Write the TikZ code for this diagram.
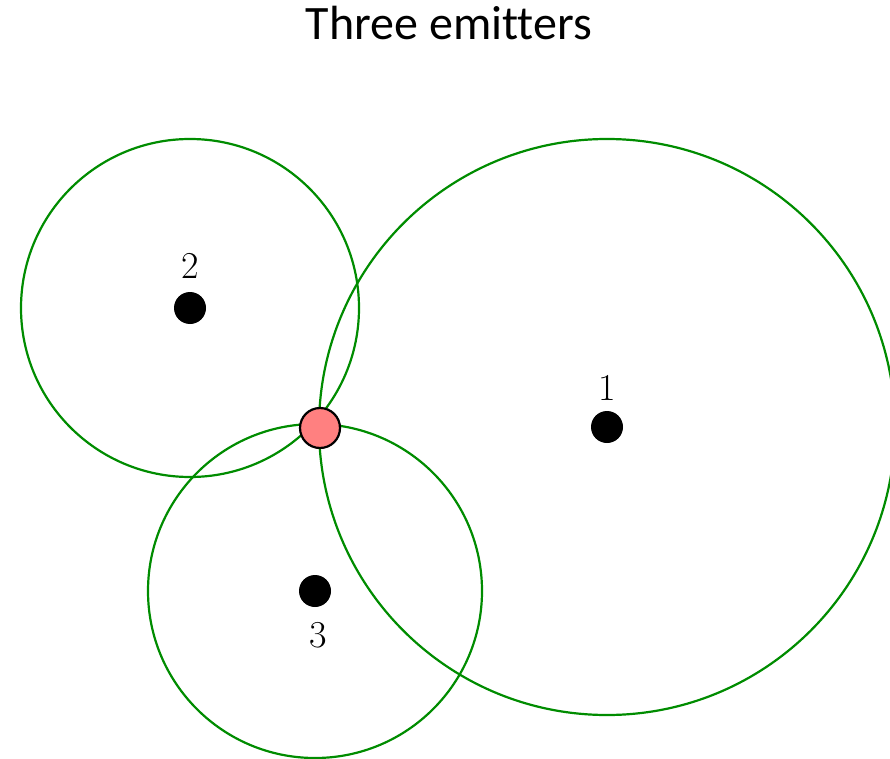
\documentclass[tikz,border=0pt]{standalone}
\usepackage{fontspec}
\newfontfamily\titlefont[Ligatures=NoCommon]{Carlito}
\definecolor{circgreen}{RGB}{0,140,0}
\definecolor{hitred}{RGB}{255,128,128}
\begin{document}
\begin{tikzpicture}[x=1pt,y=-1pt,
  rangecircle/.style={draw=circgreen,line width=2.2pt},
  emitter/.style={circle,fill=black,inner sep=0pt,minimum size=32pt},
  lbl/.style={font=\fontsize{38}{44}\selectfont,inner sep=0pt},
  hit/.style={circle,draw=black,fill=hitred,line width=2.2pt,inner sep=0pt,minimum size=40pt}]
\useasboundingbox (0,0) rectangle (890,759);
\clip (0,0) rectangle (890,759);
\node[anchor=base,font=\titlefont\fontsize{48}{56}\selectfont,inner sep=0pt] (title) at (449,40) {Three emitters};
\coordinate (c1) at (607,427);
\coordinate (c2) at (190,308);
\coordinate (c3) at (315,591);
\draw[rangecircle] (c1) circle[radius=288];
\draw[rangecircle] (c2) circle[radius=169];
\draw[rangecircle] (c3) circle[radius=167];
\node[emitter] (e1) at (c1) {};
\node[emitter] (e2) at (c2) {};
\node[emitter] (e3) at (c3) {};
\node[lbl] (l1) at (607,388) {1};
\node[lbl] (l2) at (190,266) {2};
\node[lbl] (l3) at (318,635) {3};
\node[hit] (p) at (320,428) {};
\end{tikzpicture}
\end{document}
